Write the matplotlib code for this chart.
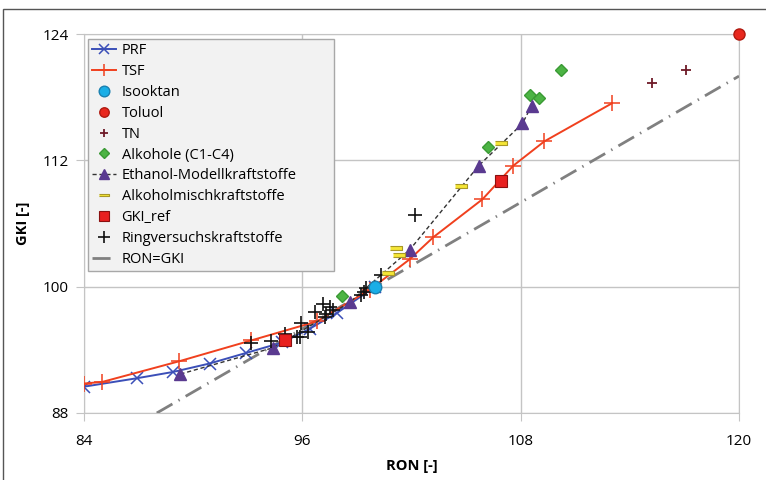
import matplotlib.pyplot as plt
from matplotlib.patches import Rectangle

plt.rcParams['font.family'] = ['Open Sans', 'DejaVu Sans']

# data
prf_ron = [84.0, 86.9, 88.9, 90.9, 92.9, 94.9, 96.4, 97.9, 100.0]
prf_gki = [90.5, 91.3, 91.9, 92.7, 93.7, 94.7, 96.0, 97.5, 100.0]

tsf_ron = [84.0, 85.0, 89.2, 93.2, 96.8, 99.7, 101.9, 103.2, 105.9, 107.6, 109.3, 113.0]
tsf_gki = [90.8, 90.95, 92.9, 94.9, 96.7, 99.7, 102.6, 104.7, 108.3, 111.5, 113.8, 117.4]

iso_ron = [100.0]
iso_gki = [100.0]

tol_ron = [120.0]
tol_gki = [124.0]

tn_ron = [115.2, 117.1]
tn_gki = [119.3, 120.6]

alk_ron = [98.2, 106.2, 108.5, 109.0, 110.2]
alk_gki = [99.1, 113.3, 118.2, 117.9, 120.6]

eth_ron = [89.3, 94.4, 98.6, 101.9, 105.7, 108.1, 108.6]
eth_gki = [91.7, 94.2, 98.5, 103.5, 111.5, 115.5, 117.2]

mix_ron = [100.7, 101.15, 101.3, 104.7, 106.9]
mix_gki = [101.3, 103.7, 103.0, 109.6, 113.6]

ref_ron = [95.05, 106.9]
ref_gki = [94.9, 110.0]

ring_ron = [93.2, 94.3, 95.05, 95.7, 95.85, 95.9, 96.3, 96.7, 97.15, 97.3, 97.5, 97.7, 97.25, 99.2, 99.4, 99.5, 100.3, 102.2]
ring_gki = [94.65, 94.85, 95.5, 95.2, 95.2, 96.55, 95.7, 97.6, 98.35, 97.4, 98.1, 97.8, 97.1, 99.2, 99.5, 99.9, 101.1, 106.8]

diag = [88, 120]

fig = plt.figure(figsize=(7.66, 4.8), dpi=100)
ax = fig.add_axes([84/766, 1-413/480, (739-84)/766, (413-34)/480])

ax.plot(prf_ron, prf_gki, '-x', color='#3b4fb8', lw=1.4, ms=8, mew=1.1, label='PRF', zorder=4)
ax.plot(tsf_ron, tsf_gki, '-+', color='#f0401e', lw=1.4, ms=11, mew=1.1, label='TSF', zorder=4)
ax.plot(iso_ron, iso_gki, 'o', color='#1aaee6', mec='#1a80b0', ms=9, label='Isooktan', ls='none', zorder=6)
ax.plot(tol_ron, tol_gki, 'o', color='#e8281e', mec='#b01a10', ms=8, label='Toluol', ls='none', zorder=6, clip_on=False)
ax.plot(tn_ron, tn_gki, '+', color='#6e1a28', ms=7, mew=1.3, label='TN', ls='none', zorder=5)
ax.plot(alk_ron, alk_gki, 'D', color='#4cb444', mec='#3a9a34', ms=6.5, label='Alkohole (C1-C4)', ls='none', zorder=5)
ax.plot(eth_ron, eth_gki, '^', color='#333333', ls=(0, (3, 2)), lw=1, ms=8, mfc='#5a3a90', mec='#5a3a90',
        label='Ethanol-Modellkraftstoffe', zorder=5)
bar = [(-3, -0.8), (3, -0.8), (3, 0.8), (-3, 0.8)]
ax.plot(mix_ron, mix_gki, marker=bar, color='#f5e636', mec='#a89828', mew=0.8, ms=9, ls='none',
        label='Alkoholmischkraftstoffe', zorder=6)
ax.plot(ref_ron, ref_gki, 's', color='#e82020', mec='#8a1010', mew=0.8, ms=9, ls='none', label='GKI_ref', zorder=6)
ax.plot(ring_ron, ring_gki, '+', color='#111111', ms=9.5, mew=1.2, ls='none', label='Ringversuchskraftstoffe', zorder=5)
ax.plot(diag, diag, color='#808080', lw=2, ls=(0, (6.5, 2.5, 0.5, 2.5)), label='RON=GKI', zorder=3)

ax.set_xlim(84, 120)
ax.set_ylim(88, 124)
ax.set_xticks([84, 96, 108, 120])
ax.set_yticks([88, 100, 112, 124])
ax.grid(True, color='#c4c4c4', lw=1)
ax.set_axisbelow(True)
for s in ax.spines.values():
    s.set_color('#c4c4c4')
ax.tick_params(colors='#c4c4c4', labelcolor='black', labelsize=11, length=6, pad=5)
ax.tick_params(axis='x', pad=9)
ax.set_xlabel('RON [-]', fontweight='bold', fontsize=10.5, labelpad=7)
ax.set_ylabel('GKI [-]', fontweight='bold', fontsize=10.5, labelpad=9)

leg = ax.legend(loc='upper left', bbox_to_anchor=(4/655, 0, 246/655, 1-5/379), mode='expand',
                borderaxespad=0, fancybox=False, framealpha=1, facecolor='#f2f2f2', edgecolor='#a8a8a8',
                fontsize=10.5, handlelength=1.6, labelspacing=0.4, borderpad=0.3, handletextpad=0.4,
                markerscale=0.85)
leg.get_frame().set_linewidth(1)

fig.patches.append(Rectangle((3/766, -0.1), 1.2, 1.1 - 9/480, transform=fig.transFigure,
                             fill=False, edgecolor='#555555', lw=1, clip_on=False))

fig.savefig('out.png', dpi=100)
